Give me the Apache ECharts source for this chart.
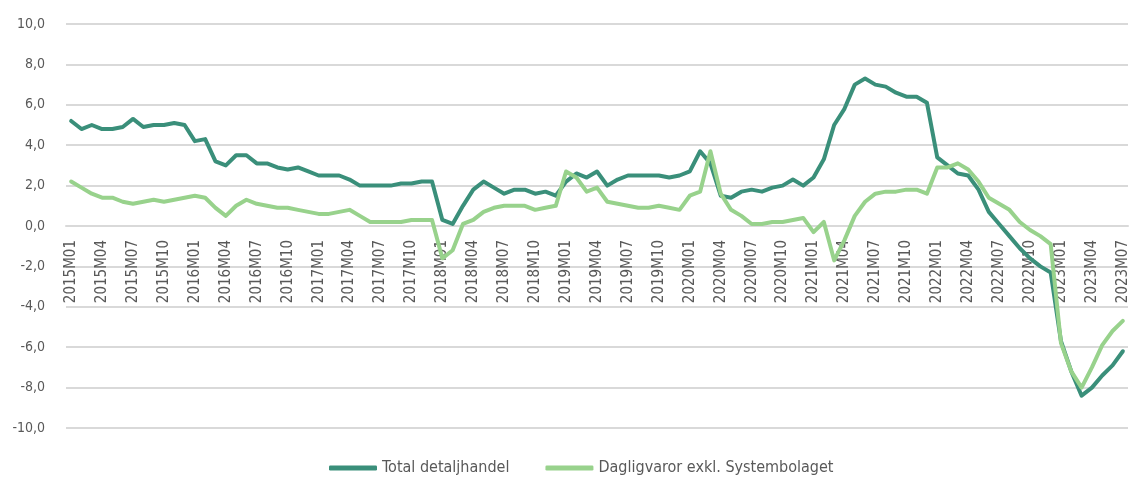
<!DOCTYPE html>
<html>
<head>
<meta charset="utf-8">
<script src="https://cdn.jsdelivr.net/npm/echarts@6/dist/echarts.min.js"></script>
<style>
html,body{margin:0;padding:0;background:#fff;}
#chart{width:1130px;height:484px;}
</style>
</head>
<body>
<div id="chart"></div>
<script>
const years = [2015, 2016, 2017, 2018, 2019, 2020, 2021, 2022, 2023];
const seriesNames = ['Total detaljhandel', 'Dagligvaror exkl. Systembolaget'];
const totalDetaljhandel = [
  5.2, 4.8, 5.0, 4.8, 4.8, 4.9, 5.3, 4.9, 5.0, 5.0, 5.1, 5.0,
  4.2, 4.3, 3.2, 3.0, 3.5, 3.5, 3.1, 3.1, 2.9, 2.8, 2.9, 2.7,
  2.5, 2.5, 2.5, 2.3, 2.0, 2.0, 2.0, 2.0, 2.1, 2.1, 2.2, 2.2,
  0.3, 0.1, 1.0, 1.8, 2.2, 1.9, 1.6, 1.8, 1.8, 1.6, 1.7, 1.5,
  2.2, 2.6, 2.4, 2.7, 2.0, 2.3, 2.5, 2.5, 2.5, 2.5, 2.4, 2.5,
  2.7, 3.7, 3.1, 1.5, 1.4, 1.7, 1.8, 1.7, 1.9, 2.0, 2.3, 2.0,
  2.4, 3.3, 5.0, 5.8, 7.0, 7.3, 7.0, 6.9, 6.6, 6.4, 6.4, 6.1,
  3.4, 3.0, 2.6, 2.5, 1.8, 0.7, 0.1, -0.5, -1.1, -1.6, -2.0, -2.3,
  -5.7, -7.2, -8.4, -8.0, -7.4, -6.9, -6.2
];
const dagligvaror = [
  2.2, 1.9, 1.6, 1.4, 1.4, 1.2, 1.1, 1.2, 1.3, 1.2, 1.3, 1.4,
  1.5, 1.4, 0.9, 0.5, 1.0, 1.3, 1.1, 1.0, 0.9, 0.9, 0.8, 0.7,
  0.6, 0.6, 0.7, 0.8, 0.5, 0.2, 0.2, 0.2, 0.2, 0.3, 0.3, 0.3,
  -1.6, -1.2, 0.1, 0.3, 0.7, 0.9, 1.0, 1.0, 1.0, 0.8, 0.9, 1.0,
  2.7, 2.4, 1.7, 1.9, 1.2, 1.1, 1.0, 0.9, 0.9, 1.0, 0.9, 0.8,
  1.5, 1.7, 3.7, 1.6, 0.8, 0.5, 0.1, 0.1, 0.2, 0.2, 0.3, 0.4,
  -0.3, 0.2, -1.7, -0.7, 0.5, 1.2, 1.6, 1.7, 1.7, 1.8, 1.8, 1.6,
  2.9, 2.9, 3.1, 2.8, 2.2, 1.4, 1.1, 0.8, 0.2, -0.2, -0.5, -0.9,
  -5.8, -7.2, -8.0, -7.0, -5.9, -5.2, -4.7
];
const yTicks = { min: -10, max: 10, interval: 2 };

const categories = [];
years.forEach(y => {
  for (let m = 1; m <= 12; m++) {
    if (categories.length < totalDetaljhandel.length) {
      categories.push(y + 'M' + (m < 10 ? '0' + m : m));
    }
  }
});

const FONT = '"DejaVu Sans Condensed", "Liberation Sans Narrow", sans-serif';
const colors = ['#3a8f7a', '#98d28c'];
const H = 484, GRID_TOP = 24, GRID_BOTTOM = 56;
const plotH = H - GRID_TOP - GRID_BOTTOM;
// place the category axis (and its labels) at the value 0 line
const zeroOffset = -plotH * (0 - yTicks.min) / (yTicks.max - yTicks.min);

const chart = echarts.init(document.getElementById('chart'), null, { renderer: 'canvas' });
chart.setOption({
  animation: false,
  textStyle: { fontFamily: FONT },
  grid: { left: 66, right: 2, top: GRID_TOP, bottom: GRID_BOTTOM, containLabel: false, outerBoundsMode: 'none' },
  legend: {
    bottom: 3,
    left: 324,
    itemWidth: 48,
    itemHeight: 5,
    itemGap: 36,
    textStyle: { fontFamily: FONT, fontSize: 16, color: '#595959' },
    data: seriesNames.map((n, i) => ({ name: n, icon: 'roundRect', itemStyle: { color: colors[i] } }))
  },
  xAxis: {
    type: 'category',
    data: categories,
    boundaryGap: true,
    position: 'bottom',
    offset: zeroOffset,
    axisLine: { show: true, onZero: false, lineStyle: { color: '#d9d9d9', width: 2 } },
    axisTick: { show: false },
    axisLabel: {
      interval: 2,
      rotate: 90,
      margin: 14,
      fontFamily: FONT,
      fontSize: 15,
      color: '#595959'
    },
    splitLine: { show: false }
  },
  yAxis: {
    type: 'value',
    min: yTicks.min,
    max: yTicks.max,
    interval: yTicks.interval,
    axisLine: { show: false },
    axisTick: { show: false },
    axisLabel: {
      margin: 21,
      fontFamily: FONT,
      fontSize: 14,
      color: '#595959',
      formatter: v => v.toFixed(1).replace('.', ',')
    },
    splitLine: { lineStyle: { color: '#d9d9d9', width: 2 } }
  },
  series: [
    {
      name: seriesNames[0],
      type: 'line',
      data: totalDetaljhandel,
      showSymbol: false,
      symbol: 'none',
      lineStyle: { width: 4, color: colors[0], cap: 'round', join: 'round' },
      itemStyle: { color: colors[0] },
      z: 3
    },
    {
      name: seriesNames[1],
      type: 'line',
      data: dagligvaror,
      showSymbol: false,
      symbol: 'none',
      lineStyle: { width: 4, color: colors[1], cap: 'round', join: 'round' },
      itemStyle: { color: colors[1] },
      z: 4
    }
  ]
});
</script>
</body>
</html>
